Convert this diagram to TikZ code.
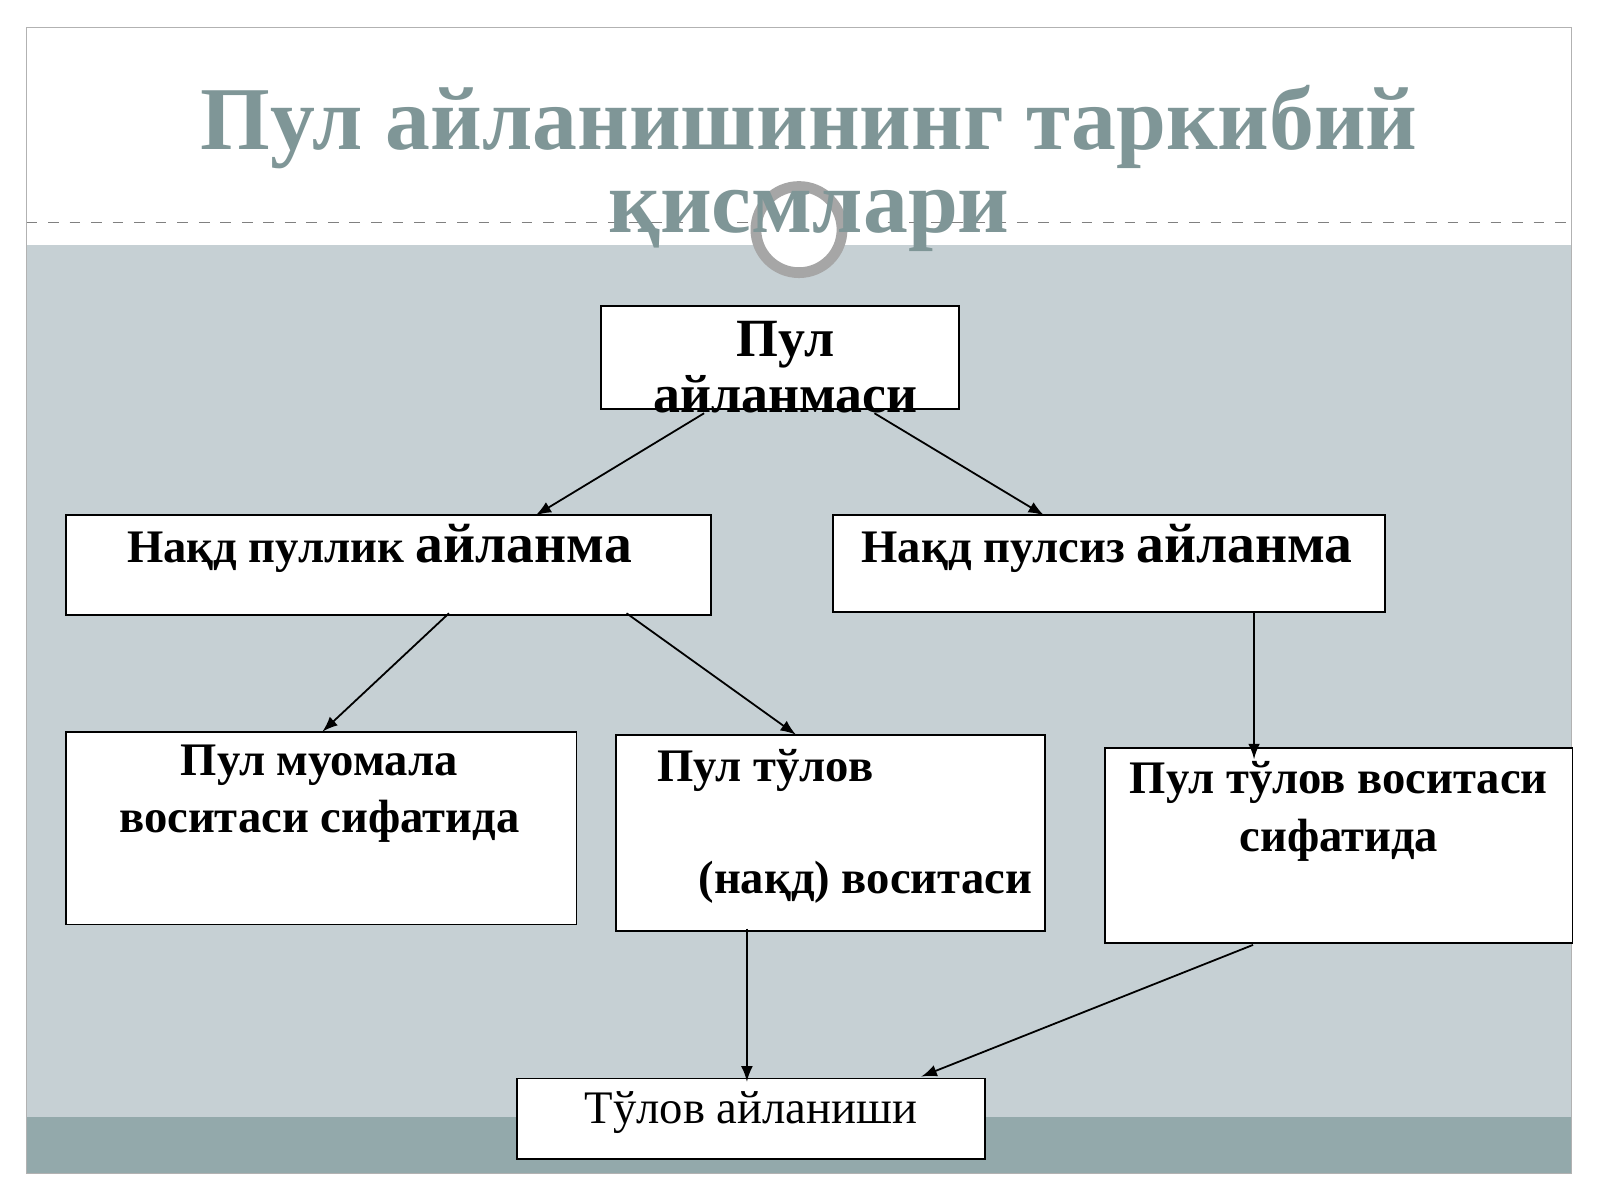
\documentclass[tikz,border=0pt]{standalone}
\usepackage{fontspec}
\setmainfont{Liberation Serif}
\begin{document}
\begin{tikzpicture}[x=0.01cm,y=-0.01cm,>=latex,
    box/.style={draw=black,fill=white,line width=0.5pt,inner sep=0pt},
    lbl/.style={font=\bfseries\fontsize{13}{16}\selectfont,align=center},
    arr/.style={->,line width=0.5pt,shorten >=0pt}]
    \useasboundingbox (0,0) rectangle (1568,1176);
    \definecolor{slidegrey}{HTML}{C6D0D4}
    \definecolor{bandgrey}{HTML}{93A9AB}
    \definecolor{titlegrey}{HTML}{7F9697}
    % slide
    \fill[white] (0,0) rectangle (1568,1176);
    \fill[slidegrey] (26,240) rectangle (1540,1095);
    \fill[bandgrey] (26,1095) rectangle (1540,1150);
    \draw[gray!60] (26,27) rectangle (1540,1150);
    \draw[gray,dashed,line width=0.4pt] (26,218) -- (1540,218);
    \node[circle,draw=gray!70,line width=3pt,fill=white,minimum size=24pt] (ring) at (783,225) {};
    \node[font=\bfseries\fontsize{25}{23}\selectfont,text=titlegrey,align=center] (title) at (793,165)
        {Пул айланишининг таркибий\\қисмлари};
    % boxes
    \draw[box] (589,300) rectangle (940,401);
    \node[lbl,font=\bfseries\fontsize{15}{15.5}\selectfont] (A) at (770,360) {Пул\\айланмаси};
    \draw[box] (65,505) rectangle (697,603);
    \node[lbl] (B) at (372,537) {Нақд пуллик \fontsize{15.5}{18}\selectfont айланма};
    \draw[box] (816,505) rectangle (1357,600);
    \node[lbl] (C) at (1085,537) {Нақд пулсиз \fontsize{15.5}{18}\selectfont айланма};
    \draw[box] (65,717) rectangle (565,906);
    \node[lbl,font=\bfseries\fontsize{13}{16}\selectfont] (D) at (313,778) {Пул муомала\\воситаси сифатида};
    \draw[box] (604,720) rectangle (1024,912);
    \node[lbl] (E1) at (750,755) {Пул тўлов};
    \node[lbl] (E2) at (848,865) {(нақд) воситаси};
    \draw[box] (1083,733) rectangle (1541,924);
    \node[lbl,font=\bfseries\fontsize{13}{16}\selectfont] (F) at (1312,795) {Пул тўлов воситаси\\сифатида};
    \draw[box] (507,1057) rectangle (965,1136);
    \node[font=\fontsize{13}{16}\selectfont] (G) at (736,1090) {Тўлов айланиши};
    % arrow ends
    \coordinate (a1) at (690,405); \coordinate (b0) at (525,505);
    \coordinate (a2) at (857,405); \coordinate (c0) at (1023,505);
    \coordinate (b1) at (440,601); \coordinate (d0) at (316,717);
    \coordinate (b2) at (614,601); \coordinate (e0) at (780,720);
    \coordinate (c1) at (1229,601); \coordinate (f0) at (1229,744);
    \coordinate (e1) at (732,910); \coordinate (g1) at (732,1060);
    \coordinate (f1) at (1228,926); \coordinate (g2) at (903,1055);
    \draw[arr] (a1) -- (b0);
    \draw[arr] (a2) -- (c0);
    \draw[arr] (b1) -- (d0);
    \draw[arr] (b2) -- (e0);
    \draw[arr] (c1) -- (f0);
    \draw[arr] (e1) -- (g1);
    \draw[arr] (f1) -- (g2);
\end{tikzpicture}
\end{document}
